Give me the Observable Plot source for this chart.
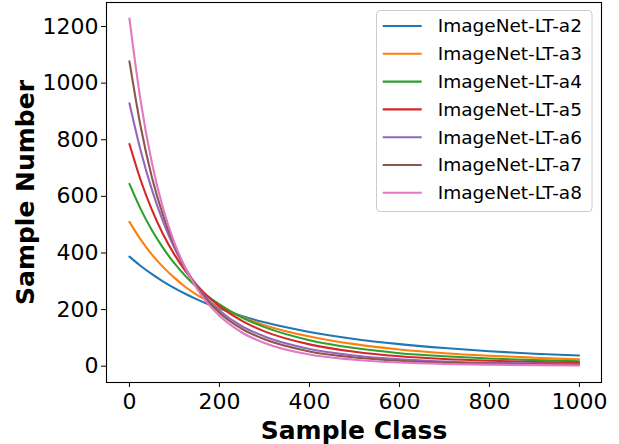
<!DOCTYPE html>
<html><head><meta charset="utf-8">
<script src="https://cdn.jsdelivr.net/npm/d3@7"></script>
<script src="https://cdn.jsdelivr.net/npm/@observablehq/plot@0.6"></script>
<style>html,body{margin:0;padding:0;background:#fff;} svg{display:block;}</style>
</head><body><div id="chart"></div>
<script>
const classes = [0, 25, 50, 75, 100, 125, 150, 175, 200, 250, 300, 400, 500, 600, 700, 800, 900, 999];
const a2 = [387, 354, 325, 299, 276, 255, 236, 219, 204, 177, 155, 121, 96, 78, 64, 53, 44, 38];
const a3 = [510, 447, 394, 350, 312, 279, 252, 229, 208, 174, 145, 105, 78, 59, 46, 37, 30, 24];
const a4 = [644, 555, 480, 417, 363, 318, 279, 246, 218, 172, 138, 92, 64, 46, 35, 27, 21.6, 17.7];
const a5 = [785, 657, 552, 465, 394, 335, 286, 245, 212, 160, 123, 77, 51, 35, 25.4, 19.2, 15, 12];
const a6 = [929, 761, 623, 510, 417, 343, 283, 235, 197, 141, 105, 61, 38, 24.6, 16.8, 12.1, 9.3, 7.6];
const a7 = [1077, 846, 667, 532, 427, 344, 280, 229, 189, 132, 95, 52, 31, 19.5, 13, 9.2, 6.8, 5.3];
const a8 = [1228, 936, 718, 556, 436, 345, 274, 220, 178, 119, 82, 41, 23, 13, 8, 5.4, 3.7, 2.7];
const seriesNames = ["ImageNet-LT-a2", "ImageNet-LT-a3", "ImageNet-LT-a4", "ImageNet-LT-a5", "ImageNet-LT-a6", "ImageNet-LT-a7", "ImageNet-LT-a8"];
const seriesValues = [a2, a3, a4, a5, a6, a7, a8];
const colors = ["#1f77b4", "#ff7f0e", "#2ca02c", "#d62728", "#9467bd", "#8c564b", "#e377c2"];
const xTicks = [0, 200, 400, 600, 800, 1000];
const yTicks = [0, 200, 400, 600, 800, 1000, 1200];
const xTitle = "Sample Class";
const yTitle = "Sample Number";

const rows = seriesNames.flatMap((name, i) => classes.map((c, j) => ({series: name, cls: c, n: seriesValues[i][j]})));

const chart = Plot.plot({
  width: 619, height: 444,
  marginLeft: 106, marginRight: 18, marginTop: 2, marginBottom: 62,
  style: {fontFamily: "DejaVu Sans", background: "#fff", color: "#000", overflow: "visible"},
  x: {domain: [-51, 1049]},
  y: {domain: [-57.6, 1284.8]},
  color: {domain: seriesNames, range: colors},
  marks: [
    Plot.line(rows, {x: "cls", y: "n", z: "series", stroke: "series", strokeWidth: 2.1, curve: "monotone-x"}),
    Plot.frame({stroke: "#000", strokeWidth: 1.1}),
    Plot.axisX({ticks: xTicks, tickSize: 5, tickPadding: 6, fontSize: 22, label: null, tickFormat: d => String(d)}),
    Plot.axisY({ticks: yTicks, tickSize: 5, tickPadding: 3, fontSize: 22, label: null, tickFormat: d => String(d)}),
    Plot.text([xTitle], {text: d => d, frameAnchor: "bottom", dy: 48, textAnchor: "middle", lineAnchor: "middle", fontSize: 25, fontWeight: "bold", fill: "#000"}),
    Plot.text([yTitle], {text: d => d, frameAnchor: "left", dx: -81, rotate: -90, textAnchor: "middle", lineAnchor: "middle", fontSize: 25, fontWeight: "bold", fill: "#000"})
  ]
});

const svg = d3.select(chart);
const lg = svg.append("g").attr("font-family", "DejaVu Sans").attr("text-anchor", "start");
lg.append("rect").attr("x", 376.5).attr("y", 10.5).attr("width", 215.5).attr("height", 201)
  .attr("rx", 3.5).attr("fill", "#fff").attr("fill-opacity", 0.8).attr("stroke", "#cccccc").attr("stroke-width", 1);
seriesNames.forEach((name, i) => {
  const cy = 26 + i * 27.8;
  lg.append("line").attr("x1", 382.7).attr("x2", 421.7).attr("y1", cy).attr("y2", cy)
    .attr("stroke", colors[i]).attr("stroke-width", 2.1);
  lg.append("text").attr("x", 437.7).attr("y", cy).attr("dy", "0.35em").attr("text-anchor", "start")
    .attr("font-size", 18.5).attr("fill", "#000").text(name);
});
document.getElementById("chart").appendChild(chart);
</script>
</body></html>
